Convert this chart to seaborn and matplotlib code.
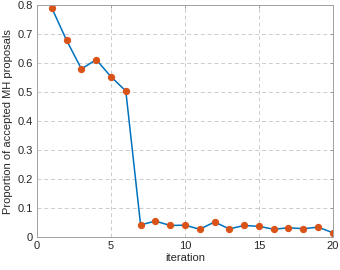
import numpy as np
import pandas as pd
import seaborn as sns
import matplotlib
matplotlib.use("Agg")
import matplotlib.pyplot as plt

iterations = list(range(1, 21))
proportion = [0.790, 0.678, 0.580, 0.612, 0.553, 0.504, 0.042, 0.055, 0.040, 0.041,
              0.027, 0.052, 0.028, 0.040, 0.037, 0.027, 0.032, 0.029, 0.034, 0.015]
x_ticks = [0, 5, 10, 15, 20]
y_ticks = [0, 0.1, 0.2, 0.3, 0.4, 0.5, 0.6, 0.7, 0.8]
y_ticklabels = ["0", "0.1", "0.2", "0.3", "0.4", "0.5", "0.6", "0.7", "0.8"]

sns.set_style("white")
plt.rcParams['font.family'] = ['Liberation Sans', 'DejaVu Sans']

df = pd.DataFrame({"iteration": iterations, "proportion": proportion})

fig = plt.figure(figsize=(3.4, 2.7), dpi=100)
ax = fig.add_axes([0.109, 0.122, 0.870, 0.859])

sns.lineplot(data=df, x="iteration", y="proportion", ax=ax, color="#0072BD",
             linewidth=1.1, marker="o", markersize=4.5, markerfacecolor="#D95319",
             markeredgecolor="#D95319")

ax.set_xlim(0, 20)
ax.set_ylim(0, 0.8)
ax.set_xticks(x_ticks)
ax.set_yticks(y_ticks)
ax.set_yticklabels(y_ticklabels)
ax.grid(True, linestyle=(0, (4, 3)), color="#cccccc", linewidth=0.7)
ax.set_axisbelow(True)
for s in ax.spines.values():
    s.set_color("#a0a0a0")
    s.set_linewidth(0.7)
ax.tick_params(direction="in", length=2.5, width=0.6, color="#909090",
               labelsize=8, labelcolor="#262626", top=True, right=True, pad=3)
ax.set_xlabel("iteration", fontsize=8, color="#262626", labelpad=1)
ax.set_ylabel("Proportion of accepted MH proposals", fontsize=8, color="#262626", labelpad=3)

fig.savefig("out.png", dpi=100)
